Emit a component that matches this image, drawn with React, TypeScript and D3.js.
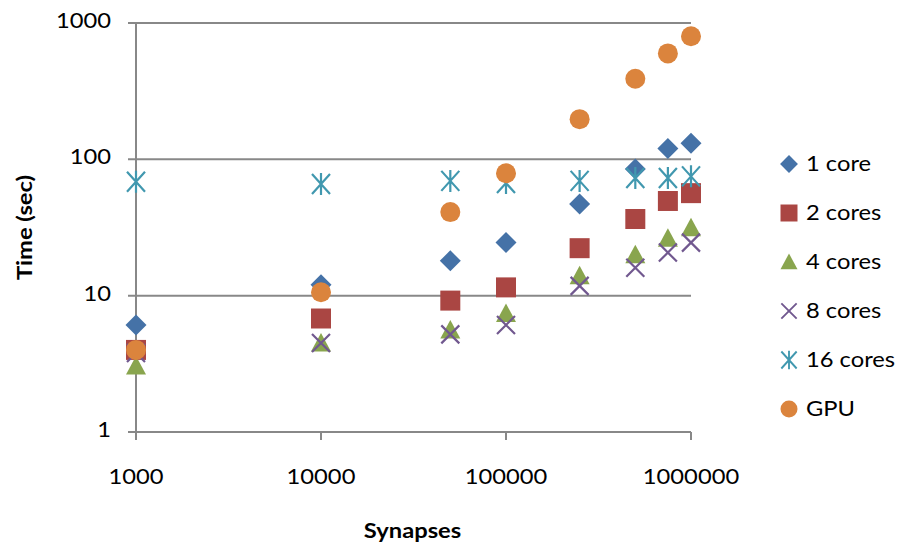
import React from 'react';
import * as d3 from 'd3';

const synapses = [1000, 10000, 50000, 100000, 250000, 500000, 750000, 1000000];
const oneCore = [6.1, 12, 18, 24.5, 47, 85, 120, 131];
const twoCores = [4.0, 6.8, 9.2, 11.5, 22.3, 36.5, 49.5, 56.5];
const fourCores = [3.05, 4.5, 5.6, 7.4, 14, 20, 26.4, 31.5];
const eightCores = [3.8, 4.5, 5.2, 6.1, 11.8, 16, 20.7, 24.5];
const sixteenCores = [68.5, 66, 69.5, 67, 69.5, 73, 73, 75];
const gpu = [4.0, 10.6, 41, 79, 197, 390, 598, 800];

const xTicks = [1000, 10000, 100000, 1000000];
const yTicks = [1, 10, 100, 1000];

const series = [
  { name: '1 core', values: oneCore, shape: 'diamond', color: '#4572A7' },
  { name: '2 cores', values: twoCores, shape: 'square', color: '#AA4643' },
  { name: '4 cores', values: fourCores, shape: 'triangle', color: '#89A54E' },
  { name: '8 cores', values: eightCores, shape: 'x', color: '#71588F' },
  { name: '16 cores', values: sixteenCores, shape: 'star', color: '#4198AF' },
  { name: 'GPU', values: gpu, shape: 'circle', color: '#DB843D' },
];

const font = 'Lato, "Open Sans", sans-serif';
const gridColor = '#888888';
// the source text looks horizontally stretched a bit
const stretch = 1.13;

function markerPath(shape: string) {
  const p = d3.path();
  if (shape === 'diamond') {
    p.moveTo(0, -10.5); p.lineTo(10.5, 0); p.lineTo(0, 10.5); p.lineTo(-10.5, 0); p.closePath();
  } else if (shape === 'square') {
    p.rect(-10, -10, 20, 20);
  } else if (shape === 'triangle') {
    p.moveTo(0, -10); p.lineTo(10, 8.5); p.lineTo(-10, 8.5); p.closePath();
  } else if (shape === 'x') {
    p.moveTo(-9, -9); p.lineTo(9, 9); p.moveTo(-9, 9); p.lineTo(9, -9);
  } else if (shape === 'star') {
    p.moveTo(-9, -10); p.lineTo(9, 10); p.moveTo(-9, 10); p.lineTo(9, -10);
    p.moveTo(0, -11); p.lineTo(0, 11);
  } else {
    p.arc(0, 0, 10, 0, Math.PI * 2);
  }
  return p.toString();
}

function Marker({ shape, color, x, y }: { shape: string; color: string; x: number; y: number }) {
  const stroked = shape === 'x' || shape === 'star';
  return (
    <path
      d={markerPath(shape)}
      transform={`translate(${x},${y})`}
      fill={stroked ? 'none' : color}
      stroke={stroked ? color : 'none'}
      strokeWidth={stroked ? 2.2 : 0}
    />
  );
}

function Label({ x, y, anchor = 'start', size = 21, bold = false, rotate = 0, children }: any) {
  return (
    <g transform={`translate(${x},${y}) rotate(${rotate}) scale(${stretch},1)`}>
      <text
        textAnchor={anchor}
        fontFamily={font}
        fontSize={size}
        fontWeight={bold ? 'bold' : 'normal'}
        fill="#000"
      >
        {children}
      </text>
    </g>
  );
}

export default function App() {
  const width = 901;
  const height = 543;
  const margin = { left: 136, right: 210, top: 23, bottom: 111 };

  const x = d3.scaleLog().domain([1000, 1000000]).range([margin.left, width - margin.right]);
  const y = d3.scaleLog().domain([1, 1000]).range([height - margin.bottom, margin.top]);

  const x0 = x.range()[0];
  const x1 = x.range()[1];
  const yBottom = y.range()[0];

  return (
    <svg width={width} height={height} style={{ position: 'absolute', left: 0, top: 0, background: '#fff' }}>
      {/* horizontal gridlines with left ticks */}
      {yTicks.map((t) => (
        <g key={'gy' + t}>
          <line x1={x0 - 8} x2={x1} y1={y(t)} y2={y(t)} stroke={gridColor} strokeWidth={2} />
          <Label x={x0 - 25} y={y(t) + 5} anchor="end">{t}</Label>
        </g>
      ))}
      {/* y axis line */}
      <line x1={x0} x2={x0} y1={y(1000)} y2={yBottom + 8} stroke={gridColor} strokeWidth={2} />
      {/* x ticks and labels */}
      {xTicks.map((t) => (
        <g key={'gx' + t}>
          <line x1={x(t)} x2={x(t)} y1={yBottom} y2={yBottom + 8} stroke={gridColor} strokeWidth={2} />
          <Label x={x(t)} y={yBottom + 52} anchor="middle">{t}</Label>
        </g>
      ))}

      {/* markers */}
      {series.map((s) => (
        <g key={s.name}>
          {s.values.map((v, i) => (
            <Marker key={i} shape={s.shape} color={s.color} x={x(synapses[i])} y={y(v)} />
          ))}
        </g>
      ))}

      {/* axis titles */}
      <Label x={(x0 + x1) / 2 - 1} y={538} anchor="middle" size={21} bold>
        Synapses
      </Label>
      <Label x={32} y={(y(1000) + yBottom) / 2} anchor="middle" size={21} bold rotate={-90}>
        Time (sec)
      </Label>

      {/* legend */}
      {series.map((s, i) => (
        <g key={'lg' + s.name} transform={`translate(789,${164 + i * 49})`}>
          <g transform="scale(0.85)">
            <Marker shape={s.shape} color={s.color} x={0} y={0} />
          </g>
          <Label x={17} y={7}>{s.name}</Label>
        </g>
      ))}
    </svg>
  );
}
